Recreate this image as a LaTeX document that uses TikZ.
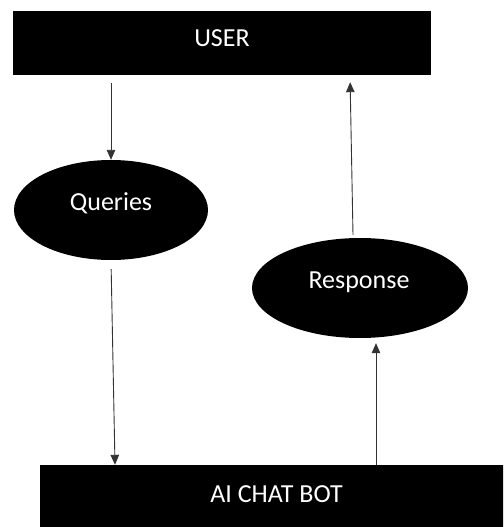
\documentclass[tikz,border=0pt]{standalone}
\usepackage{fontspec}
\setmainfont{Carlito}
\usetikzlibrary{arrows.meta,shapes.geometric,calc}
\tikzset{
  block/.style={draw=none, fill=black, rectangle, inner sep=0pt},
  blob/.style={draw=none, fill=black, ellipse, inner sep=0pt},
  caption/.style={text=white, font=\fontsize{26}{30}\selectfont, anchor=base, inner sep=0pt},
  flow/.style={draw=black!80, line width=0.9pt, -{Triangle[length=10pt,width=8.5pt]}}
}
\begin{document}
\begin{tikzpicture}[x=1pt,y=-1pt]
  \clip (0,0) rectangle (503,527);
  \fill[white] (0,0) rectangle (503,527);

  % shapes
  \node[block, minimum width=418pt, minimum height=64pt] (user) at (222,43) {};
  \node[blob, minimum width=194pt, minimum height=100pt] (queries) at (111,210) {};
  \node[blob, minimum width=216pt, minimum height=100pt] (response) at (360,288) {};
  \node[block, minimum width=473pt, minimum height=70pt] (bot) at (276.5,500) {};

  % labels
  \node[caption] (userlbl) at (222,47) {USER};
  \node[caption] (querieslbl) at (111,210) {Queries};
  \node[caption] (responselbl) at (359,288) {Response};
  \node[caption] (botlbl) at (276.5,502) {AI CHAT BOT};

  % connectors
  \draw[flow, shorten <=8pt] (user.south -| queries.north) -- (queries.north);
  \draw[flow, shorten <=9pt] (queries.south) -- ([xshift=4pt]queries.south |- bot.north);
  \draw[flow, shorten >=5pt] ([xshift=16pt]response.south |- bot.north) -- ([xshift=16pt]response.south);
  \draw[flow, shorten >=7pt] ([xshift=-7pt,yshift=3pt]response.north) -- ([xshift=-10pt]response.north |- user.south);
\end{tikzpicture}
\end{document}
